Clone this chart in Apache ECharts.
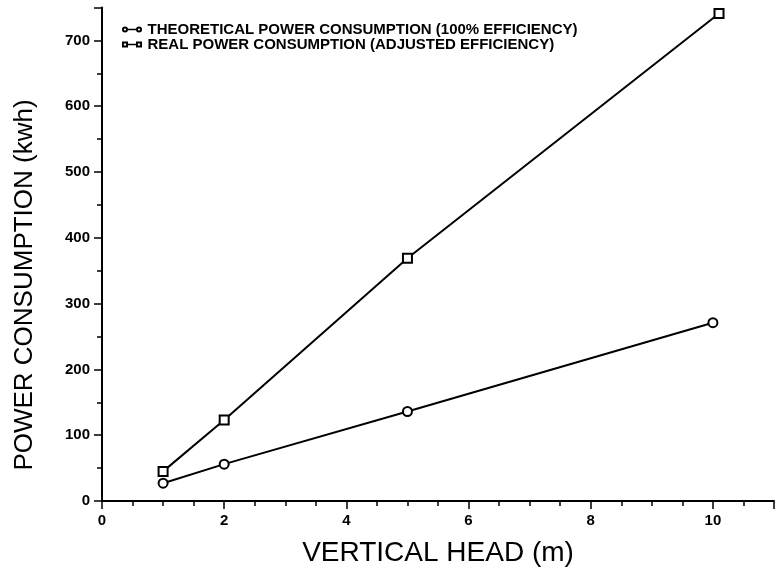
<!DOCTYPE html>
<html>
<head>
<meta charset="utf-8">
<script src="https://cdn.jsdelivr.net/npm/echarts@6/dist/echarts.min.js"></script>
<style>
html, body { margin: 0; padding: 0; background: #fff; }
#chart { width: 777px; height: 578px; }
</style>
</head>
<body>
<div id="chart"></div>
<script>
// 扬程 - 耗电量
const headTheoretical = [1, 2, 5, 10];
const headReal = [1, 2, 5, 10.1];
const theoreticalKwh = [27, 56, 136, 271];
const realKwh = [45, 123, 369, 741];
const xTickLabels = ['0', '2', '4', '6', '8', '10'];
const yTickLabels = ['0', '100', '200', '300', '400', '500', '600', '700'];
const seriesNames = [
    'THEORETICAL POWER CONSUMPTION (100% EFFICIENCY)',
    'REAL POWER CONSUMPTION (ADJUSTED EFFICIENCY)'
];

const FONT = '"Liberation Sans", Arial, sans-serif';

// legend icons: o—o and □—□ (holes drawn in reverse direction)
const circleIcon = 'path://M0,3A3,3 0 1,1 6,3A3,3 0 1,1 0,3Z' +
    'M1.9,3A1.1,1.1 0 1,0 4.1,3A1.1,1.1 0 1,0 1.9,3Z' +
    'M14,3A3,3 0 1,1 20,3A3,3 0 1,1 14,3Z' +
    'M15.9,3A1.1,1.1 0 1,0 18.1,3A1.1,1.1 0 1,0 15.9,3Z' +
    'M5.6,2.2H14.4V3.8H5.6Z';
const squareIcon = 'path://M0,0H6V6H0Z M1.9,1.9V4.1H4.1V1.9Z' +
    'M14,0H20V6H14Z M15.9,1.9V4.1H18.1V1.9Z' +
    'M5.6,2.2H14.4V3.8H5.6Z';

const pairs = (xs, ys) => ys.map((v, i) => [xs[i], v]);

const tickLabel = list => v => (list.indexOf(String(v)) > -1 ? String(v) : '');

const baseAxis = {
    type: 'value',
    axisLine: { show: true, onZero: false, lineStyle: { color: '#000', width: 2 } },
    axisTick: { show: true, length: 8, lineStyle: { color: '#000', width: 1.5 } },
    splitLine: { show: false }
};

const option = {
    animation: false,
    backgroundColor: '#fff',
    grid: { left: 102, right: -7, top: 7.5, bottom: 77, containLabel: false },
    legend: {
        orient: 'vertical',
        left: 117,
        top: 17,
        itemWidth: 21,
        itemHeight: 6,
        itemGap: 0,
        itemStyle: { color: '#000', borderWidth: 0 },
        textStyle: { color: '#000', fontFamily: FONT, fontSize: 15, fontWeight: 'bold', lineHeight: 15 },
        data: [
            { name: seriesNames[0], icon: circleIcon },
            { name: seriesNames[1], icon: squareIcon }
        ]
    },
    xAxis: [
        Object.assign({}, baseAxis, {
            min: 0, max: 11, interval: 2, position: 'bottom',
            axisLabel: {
                formatter: tickLabel(xTickLabels), color: '#000', margin: 12,
                fontFamily: FONT, fontSize: 15, fontWeight: 'bold'
            }
        }),
        Object.assign({}, baseAxis, {
            min: 0, max: 11, interval: 0.5, position: 'bottom',
            axisLine: { show: false, onZero: false },
            axisTick: { show: true, length: 5, lineStyle: { color: '#000', width: 1.5 } },
            axisLabel: { show: false }
        })
    ],
    yAxis: [
        Object.assign({}, baseAxis, {
            min: 0, max: 750, interval: 100, position: 'left',
            axisLabel: {
                formatter: tickLabel(yTickLabels), color: '#000', margin: 12,
                fontFamily: FONT, fontSize: 15, fontWeight: 'bold'
            }
        }),
        Object.assign({}, baseAxis, {
            min: 0, max: 750, interval: 50, position: 'left',
            axisLine: { show: false, onZero: false },
            axisTick: { show: true, length: 5, lineStyle: { color: '#000', width: 1.5 } },
            axisLabel: { show: false }
        })
    ],
    graphic: [
        {
            type: 'text', x: 438, y: 553,
            style: {
                text: 'VERTICAL HEAD (m)', fill: '#000', font: '28px ' + FONT,
                textAlign: 'center', textVerticalAlign: 'middle'
            }
        },
        {
            type: 'text', x: 25, y: 285, rotation: Math.PI / 2,
            style: {
                text: 'POWER CONSUMPTION (kwh)', fill: '#000', font: '26px ' + FONT,
                textAlign: 'center', textVerticalAlign: 'middle'
            }
        }
    ],
    series: [
        {
            name: seriesNames[0],
            type: 'line',
            xAxisIndex: 0, yAxisIndex: 0,
            data: pairs(headTheoretical, theoreticalKwh),
            symbol: 'emptyCircle',
            symbolSize: 9,
            color: '#000',
            lineStyle: { color: '#000', width: 2 },
            itemStyle: { color: '#000', borderWidth: 2.5 }
        },
        {
            name: seriesNames[1],
            type: 'line',
            xAxisIndex: 0, yAxisIndex: 0,
            data: pairs(headReal, realKwh),
            symbol: 'emptyRect',
            symbolSize: 9,
            color: '#000',
            lineStyle: { color: '#000', width: 2 },
            itemStyle: { color: '#000', borderWidth: 2.5 }
        }
    ]
};

const myChart = echarts.init(document.getElementById('chart'));
// 绘制图表
myChart.setOption(option);
</script>
</body>
</html>
